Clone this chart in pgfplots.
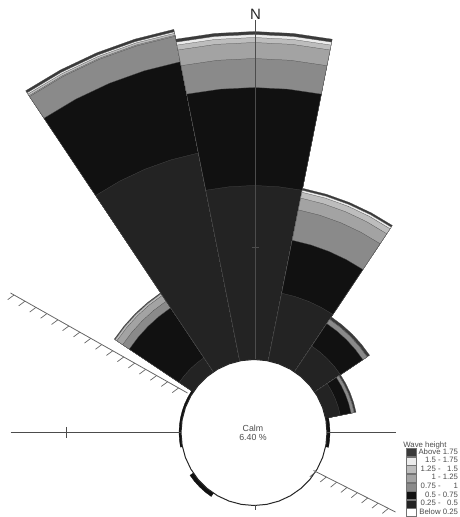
\documentclass[border=0pt]{standalone}
\usepackage{pgfplots}
\pgfplotsset{compat=1.18}
\usepackage{pgfplotstable}
\usepackage{fontspec}
\setmainfont{Liberation Sans}
\usetikzlibrary{decorations.markings}

\definecolor{c1}{HTML}{232323}
\definecolor{c2}{HTML}{111111}
\definecolor{c3}{HTML}{8A8A8A}
\definecolor{c4}{HTML}{A3A3A3}
\definecolor{c5}{HTML}{BDBDBD}
\definecolor{c6}{HTML}{ECECEC}
\definecolor{c7}{HTML}{3A3A3A}

% cumulative radii of the wave-height classes (plot units), one table per direction
\pgfplotstableread{
a       r1  r2  r3  r4  r5  r6  r7
123.75  0   0   0   0   0   0   0
123.75  90  150 158 165 167 167 168
129.375 90  150 158 165 167 167 168
135     90  150 158 165 167 167 168
140.625 90  150 158 165 167 167 168
146.25  90  150 158 165 167 167 168
146.25  0   0   0   0   0   0   0
}\tNW
\pgfplotstableread{
a       r1  r2  r3  r4  r5  r6  r7
101.25  0   0   0   0   0   0   0
101.25  285 378 404 405 407 408.5 411
106.875 285 378 404 405 407 408.5 411
112.5   285 378 404 405 407 408.5 411
118.125 285 378 404 405 407 408.5 411
123.75  285 378 404 405 407 408.5 411
123.75  0   0   0   0   0   0   0
}\tNNW
\pgfplotstableread{
a       r1  r2  r3  r4  r5  r6  r7
78.75   0   0   0   0   0   0   0
78.75   247 345 374 390 395 398 401
84.375  247 345 374 390 395 398 401
90      247 345 374 390 395 398 401
95.625  247 345 374 390 395 398 401
101.25  247 345 374 390 395 398 401
101.25  0   0   0   0   0   0   0
}\tN
\pgfplotstableread{
a       r1  r2  r3  r4  r5  r6  r7
56.25   0   0   0   0   0   0   0
56.25   142 196 227 239 245 247 249
61.875  142 196 227 239 245 247 249
67.5    142 196 227 239 245 247 249
73.125  142 196 227 239 245 247 249
78.75   142 196 227 239 245 247 249
78.75   0   0   0   0   0   0   0
}\tNNE
\pgfplotstableread{
a       r1  r2  r3  r4  r5  r6  r7
33.75   0   0   0   0   0   0   0
33.75   104 131 136 136 136 136 139
39.375  104 131 136 136 136 136 139
45      104 131 136 136 136 136 139
50.625  104 131 136 136 136 136 139
56.25   104 131 136 136 136 136 139
56.25   0   0   0   0   0   0   0
}\tNE
\pgfplotstableread{
a       r1  r2  r3  r4  r5  r6  r7
11.25   0   0   0   0   0   0   0
11.25   88  99  102 102 102 102 104
16.875  88  99  102 102 102 102 104
22.5    88  99  102 102 102 102 104
28.125  88  99  102 102 102 102 104
33.75   88  99  102 102 102 102 104
33.75   0   0   0   0   0   0   0
}\tENE
\pgfplotstableread{
a       r
-11.25  0
-11.25  76
-5.625  76
0       76
5.625   76
11.25   76
11.25   0
146.25  0
146.25  75
151.875 75
157.5   75
163.125 75
168.75  75
174.375 75
180     75
185.625 75
191.25  75
191.25  0
213.75  0
213.75  77
219.375 77
225     77
230.625 77
236.25  77
236.25  0
}\tSmall

\newcommand{\sector}[1]{%
  \pgfplotsinvokeforeach{7,6,5,4,3,2,1}{%
    \addplot[fill=c##1, draw=black!70, line width=0.12pt, data cs=polar, forget plot]
      table[x=a, y=r##1] {#1};
  }%
}

\begin{document}
\begin{tikzpicture}
\begin{axis}[
  scale only axis, width=229.5pt, height=258.5pt,
  xmin=-254, xmax=205, ymin=-84.5, ymax=432.5,
  hide axis, clip=false,
  legend cell align=right,
  legend style={at={(axis cs:204,-84.5)}, anchor=south east, draw=none, fill=none,
    inner sep=0pt, outer sep=0pt, row sep=0pt, column sep=1.2pt,
    font=\fontsize{3.9}{4}\selectfont, text=black!70,
    nodes={inner sep=0pt, text height=2.8pt, text depth=1.2pt}},
  legend image code/.code={\draw[#1, draw=black!55, line width=0.3pt] (0pt,-2pt) rectangle (4.8pt,2pt);},
]
\sector{\tNW}
\sector{\tNNW}
\sector{\tN}
\sector{\tNNE}
\sector{\tNE}
\sector{\tENE}
\addplot[fill=c2, draw=c2, line width=0.15pt, data cs=polar, forget plot] table[x=a, y=r] {\tSmall};

% calm circle
\addplot[fill=white, draw=black!85, line width=0.5pt, data cs=polar, forget plot] coordinates {
(0,73) (10,73) (20,73) (30,73) (40,73) (50,73) (60,73) (70,73) (80,73) (90,73)
(100,73) (110,73) (120,73) (130,73) (140,73) (150,73) (160,73) (170,73) (180,73)
(190,73) (200,73) (210,73) (220,73) (230,73) (240,73) (250,73) (260,73) (270,73)
(280,73) (290,73) (300,73) (310,73) (320,73) (330,73) (340,73) (350,73) (360,73)};

% reference lines
\addplot[black!70, line width=0.35pt, forget plot] coordinates {(1,73) (1,412)};
\addplot[black!70, line width=0.35pt, forget plot] coordinates {(-2.5,185) (4.5,185)};
\addplot[black!70, line width=0.35pt, forget plot] coordinates {(1,-73) (1,-78)};
\addplot[black!70, line width=0.35pt, forget plot] coordinates {(-243.5,0) (-73,0)};
\addplot[black!70, line width=0.35pt, forget plot] coordinates {(-187.5,5.5) (-187.5,-5.5)};
\addplot[black!70, line width=0.35pt, forget plot] coordinates {(73,0) (141.5,0)};

% coast line
\addplot[black!60, line width=0.4pt, forget plot, postaction={decorate},
  decoration={markings, mark=between positions 0.02 and 0.99 step 6.3pt with
    {\draw[black!60, line width=0.35pt] (0pt,0pt) -- (-1.6pt,-3.6pt);}}]
  coordinates {(-243.5,139.5) (-66.5,39.5)};
\addplot[black!60, line width=0.4pt, forget plot, postaction={decorate},
  decoration={markings, mark=between positions 0.03 and 0.99 step 5.8pt with
    {\draw[black!60, line width=0.35pt] (0pt,0pt) -- (-1.6pt,-3.6pt);}}]
  coordinates {(59.5,-38) (141.5,-79.5)};

\node[font=\fontsize{7.5}{8}\selectfont, text=black!85] at (axis cs:1.5,418) {N};
\node[font=\fontsize{4.4}{5}\selectfont, text=black!70] at (axis cs:-1,4.5) {Calm};
\node[font=\fontsize{4.4}{5}\selectfont, text=black!70] at (axis cs:-1,-5) {6.40 \%};
\node[font=\fontsize{3.9}{4}\selectfont, text=black!70, anchor=west, inner sep=0pt] at (axis cs:149,-12.5) {Wave height};

\addlegendimage{fill=c7}\addlegendentry{Above 1.75}
\addlegendimage{fill=c6}\addlegendentry{1.5 - 1.75}
\addlegendimage{fill=c5}\addlegendentry{1.25 - \hphantom{0}1.5}
\addlegendimage{fill=c4}\addlegendentry{1 - 1.25}
\addlegendimage{fill=c3}\addlegendentry{0.75 - \hphantom{.75}1}
\addlegendimage{fill=c2}\addlegendentry{0.5 - 0.75}
\addlegendimage{fill=c1}\addlegendentry{0.25 - \hphantom{0}0.5}
\addlegendimage{fill=white}\addlegendentry{Below 0.25}
\end{axis}
\pgfresetboundingbox
\useasboundingbox (current axis.south west) rectangle (current axis.north east);
\end{tikzpicture}
\end{document}
